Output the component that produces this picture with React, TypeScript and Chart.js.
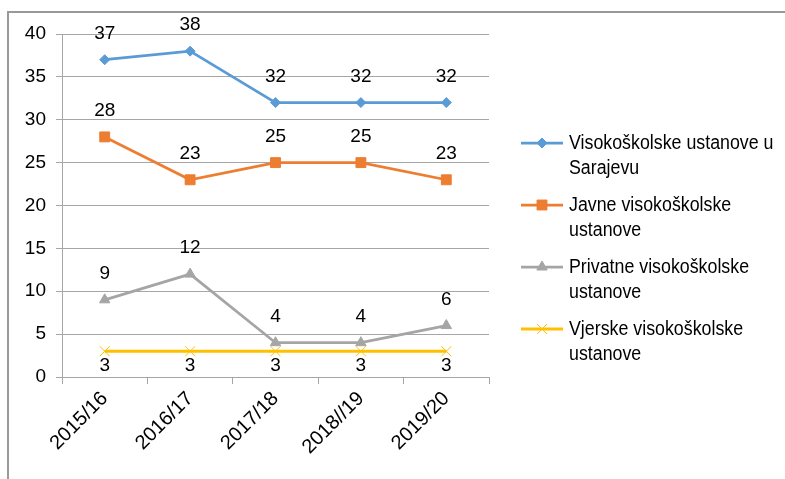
import React, { useEffect, useRef } from 'react';
import { Chart, registerables } from 'chart.js';
import { drawPoint } from 'chart.js/helpers';

Chart.register(...registerables);

const categories = ['2015/16', '2016/17', '2017/18', '2018//19', '2019/20'];
const seriesNames = [
  'Visokoškolske ustanove u Sarajevu',
  'Javne visokoškolske ustanove',
  'Privatne visokoškolske ustanove',
  'Vjerske visokoškolske ustanove',
];
const sarajevo = [37, 38, 32, 32, 32];
const javne = [28, 23, 25, 25, 23];
const privatne = [9, 12, 4, 4, 6];
const vjerske = [3, 3, 3, 3, 3];
const yMin = 0;
const yMax = 40;
const yStep = 5;

const TICK_FONT = '"Liberation Sans", Arial, sans-serif';
const NARROW = 0.89;

const dataLabelPlugin = {
  id: 'dataLabels',
  afterDatasetsDraw(chart: any) {
    const ctx = chart.ctx;
    ctx.save();
    ctx.font = `19px ${TICK_FONT}`;
    ctx.fillStyle = '#000';
    ctx.textAlign = 'center';
    ctx.textBaseline = 'middle';
    chart.data.datasets.forEach((ds: any, di: number) => {
      const meta = chart.getDatasetMeta(di);
      meta.data.forEach((pt: any, i: number) => {
        const off = ds.labelBelow ? 14 : -26;
        ctx.fillText(String(ds.data[i]), pt.x, pt.y + off);
      });
    });
    ctx.restore();
  },
};

const legendPlugin = {
  id: 'customLegend',
  afterDraw(chart: any) {
    const ctx = chart.ctx;
    ctx.save();
    ctx.font = `20px ${TICK_FONT}`;
    chart.data.datasets.forEach((ds: any, di: number) => {
      const y0 = 143 + di * 62;
      ctx.strokeStyle = ds.borderColor;
      ctx.lineWidth = ds.borderWidth;
      ctx.beginPath();
      ctx.moveTo(521, y0);
      ctx.lineTo(563, y0);
      ctx.stroke();
      ctx.fillStyle = ds.pointBackgroundColor;
      ctx.strokeStyle = ds.pointBorderColor;
      ctx.lineWidth = ds.pointBorderWidth;
      drawPoint(ctx, { pointStyle: ds.pointStyle, radius: ds.pointRadius, borderWidth: ds.pointBorderWidth, rotation: 0 }, 542, y0);
      const words = String(ds.label).split(' ');
      const lines: string[] = [];
      let cur = '';
      words.forEach((w) => {
        const test = cur ? cur + ' ' + w : w;
        if (ctx.measureText(test).width * NARROW > 212 && cur) {
          lines.push(cur);
          cur = w;
        } else cur = test;
      });
      if (cur) lines.push(cur);
      ctx.fillStyle = '#000';
      ctx.textAlign = 'left';
      ctx.textBaseline = 'middle';
      lines.forEach((ln, li) => {
        ctx.save();
        ctx.translate(569, y0 + li * 25);
        ctx.scale(NARROW, 1);
        ctx.fillText(ln, 0, 0);
        ctx.restore();
      });
    });
    ctx.restore();
  },
};

export default function App() {
  const ref = useRef<HTMLCanvasElement | null>(null);
  useEffect(() => {
    if (!ref.current) return;
    const mk = (label: string, data: number[], color: string, style: string, radius: number, extra: any = {}) => ({
      label,
      data,
      borderColor: color,
      backgroundColor: color,
      borderWidth: 2.75,
      pointStyle: style,
      pointRadius: radius,
      pointHoverRadius: radius,
      pointBackgroundColor: color,
      pointBorderColor: color,
      pointBorderWidth: 1,
      tension: 0,
      ...extra,
    });
    const chart = new Chart(ref.current, {
      type: 'line',
      data: {
        labels: categories,
        datasets: [
          mk(seriesNames[0], sarajevo, '#5b9bd5', 'rectRot', 5),
          mk(seriesNames[1], javne, '#ed7d31', 'rect', 7),
          mk(seriesNames[2], privatne, '#a5a5a5', 'triangle', 6),
          mk(seriesNames[3], vjerske, '#ffc000', 'crossRot', 7, { labelBelow: true, borderWidth: 3 }),
        ] as any,
      },
      options: {
        animation: false,
        responsive: false,
        layout: { padding: { top: 34, right: 296, left: 0, bottom: 0 } },
        plugins: { legend: { display: false }, tooltip: { enabled: false } },
        scales: {
          x: {
            offset: true,
            grid: { drawOnChartArea: false, tickLength: 7, color: '#a6a6a6', offset: true },
            border: { color: '#a6a6a6' },
            ticks: { minRotation: 45, maxRotation: 45, font: { family: TICK_FONT, size: 20 }, color: '#000', padding: 3 },
            afterFit: (s: any) => { s.height = 102; },
          },
          y: {
            min: yMin,
            max: yMax,
            ticks: { stepSize: yStep, font: { family: TICK_FONT, size: 19 }, color: '#000', padding: 10 },
            grid: { color: '#a6a6a6', tickLength: 6 },
            border: { color: '#a6a6a6' },
            afterFit: (s: any) => { s.width = 62; },
          },
        },
      },
      plugins: [dataLabelPlugin, legendPlugin],
    });
    return () => chart.destroy();
  }, []);
  return (
    <div style={{ position: 'fixed', top: 0, left: 0, width: 785, height: 479, background: '#fff' }}>
      <div style={{ position: 'absolute', top: 11, left: 7, right: 0, bottom: 0, borderTop: '2px solid #999', borderLeft: '2px solid #999' }} />
      <canvas ref={ref} width={785} height={479} style={{ position: 'absolute', top: 0, left: 0 }} />
    </div>
  );
}
